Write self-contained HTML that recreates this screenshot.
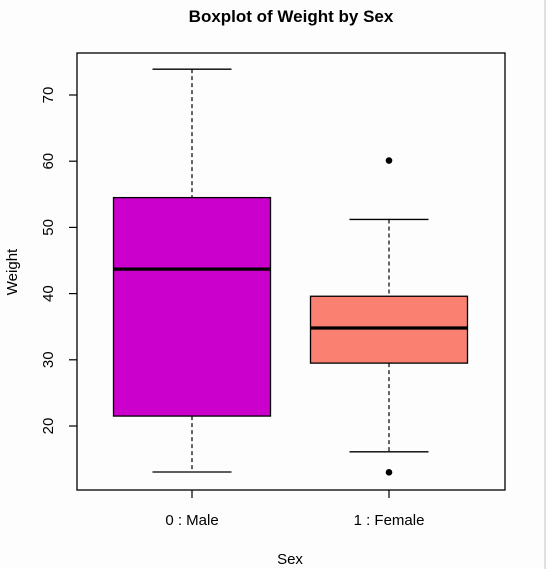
<!DOCTYPE html>
<html><head><meta charset="utf-8"><style>
html,body{margin:0;padding:0;background:#fdfdfd;}
svg{display:block;font-family:"Liberation Sans",Arial,sans-serif;}
</style></head><body>
<svg id="chart" width="548" height="569">
<rect x="0" y="0" width="548" height="569" fill="#fdfdfd"/>
<rect x="544" y="0" width="2" height="569" fill="#dde1e6"/>
<text x="291" y="22" text-anchor="middle" font-size="17" font-weight="bold">Boxplot of Weight by Sex</text>
<text x="290" y="564" text-anchor="middle" font-size="15">Sex</text>
<text transform="translate(17,272) rotate(-90)" text-anchor="middle" font-size="15">Weight</text>
<g id="marks"></g>
<rect x="77" y="53" width="428" height="437" fill="none" stroke="#000" stroke-width="1.3"/>
</svg>
<script>
const categories = ["0 : Male", "1 : Female"];
const whiskerLow = [13.05, 16.1];
const q1 = [21.5, 29.5];
const medians = [43.7, 34.8];
const q3 = [54.5, 39.6];
const whiskerHigh = [73.9, 51.2];
const outliers = [[], [60.1, 13.0]];
const colors = ["#cc00cc", "#fa8072"];
const yTicks = [20, 30, 40, 50, 60, 70];

const NS = "http://www.w3.org/2000/svg";
const g = document.getElementById("marks");
function y(v){ return 426 - (v - 20) * 6.62; }
function x(i){ return 192 + i * 197; }
function mk(tag, attrs, parent){
  const e = document.createElementNS(NS, tag);
  for (const k in attrs) e.setAttribute(k, attrs[k]);
  (parent || g).appendChild(e);
  return e;
}
yTicks.forEach(t => {
  const l = mk("line", {x1:69, x2:77, y1:y(t), y2:y(t), stroke:"#000", "stroke-width":1.2});
  
  
  const tx = mk("text", {transform:`translate(53,${y(t)}) rotate(-90)`, "text-anchor":"middle", "font-size":15});
  tx.textContent = t;
  
  
});
categories.forEach((c, i) => {
  const cx = x(i), hw = 78.5, cw = 39.5;
  const tk = mk("line", {x1:cx, x2:cx, y1:490, y2:498, stroke:"#000", "stroke-width":1.2});
  
  
  const lb = mk("text", {x:cx, y:525, "text-anchor":"middle", "font-size":15});
  lb.textContent = c;
  
  
  const wu = mk("line", {x1:cx, x2:cx, y1:y(whiskerHigh[i]), y2:y(q3[i]), stroke:"#000", "stroke-dasharray":"4,3", "stroke-width":1.2});
  
  
  const wl = mk("line", {x1:cx, x2:cx, y1:y(q1[i]), y2:y(whiskerLow[i]), stroke:"#000", "stroke-dasharray":"4,3", "stroke-width":1.2});
  
  
  [whiskerHigh[i], whiskerLow[i]].forEach(v => {
    const cp = mk("line", {x1:cx-cw, x2:cx+cw, y1:y(v), y2:y(v), stroke:"#000", "stroke-width":1.3});
    
    
  });
  const b = mk("rect", {x:cx-hw, y:y(q3[i]), width:hw*2, height:y(q1[i])-y(q3[i]), fill:colors[i], stroke:"#000", "stroke-width":1.3});
  
  
  const m = mk("line", {x1:cx-hw, x2:cx+hw, y1:y(medians[i]), y2:y(medians[i]), stroke:"#000", "stroke-width":3.2});
  
  
  outliers[i].forEach(v => {
    const o = mk("circle", {cx:cx, cy:y(v), r:3.3, fill:"#000"});
    
    
  });
});
</script>
</body></html>
